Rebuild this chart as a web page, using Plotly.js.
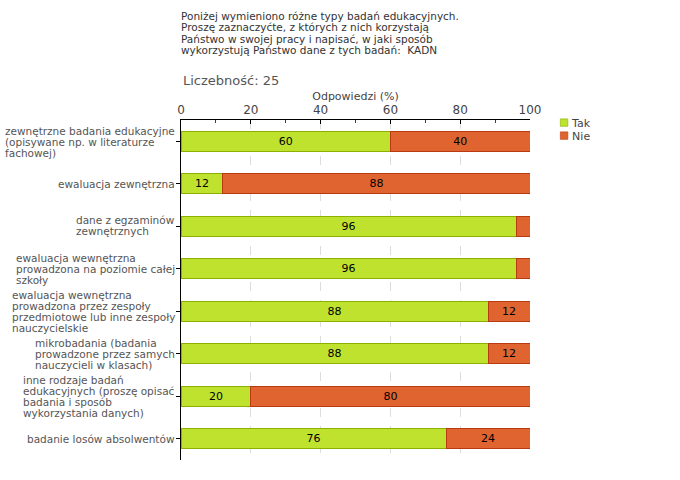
<!DOCTYPE html>
<html>
<head>
<meta charset="utf-8">
<script src="https://cdn.plot.ly/plotly-3.0.1.min.js"></script>
<style>
html,body{margin:0;padding:0;background:#fff;}
#chart{width:680px;height:480px;}
#chart .legendpoints path{transform:translate(32px,0) scale(0.62);}
</style>
</head>
<body>
<div id="chart"></div>
<script>
const categories = [
  "zewnętrzne badania edukacyjne<br>(opisywane np. w literaturze<br>fachowej)",
  "ewaluacja zewnętrzna",
  "dane z egzaminów<br>zewnętrznych",
  "ewaluacja wewnętrzna<br>prowadzona na poziomie całej<br>szkoły",
  "ewaluacja wewnętrzna<br>prowadzona przez zespoły<br>przedmiotowe lub inne zespoły<br>nauczycielskie",
  "mikrobadania (badania<br>prowadzone przez samych<br>nauczycieli w klasach)",
  "inne rodzaje badań<br>edukacyjnych (proszę opisać<br>badania i sposób<br>wykorzystania danych)",
  "badanie losów absolwentów"
];
const takValues = [60, 12, 96, 96, 88, 88, 20, 76];
const nieValues = [40, 88, 4, 4, 12, 12, 80, 24];
const xTicks = [0, 20, 40, 60, 80, 100];
const titleText = "Poniżej wymieniono różne typy badań edukacyjnych.<br>Proszę zaznaczyćte, z których z nich korzystają<br>Państwo w swojej pracy i napisać, w jaki sposób<br>wykorzystują Państwo dane z tych badań:  KADN";
const countText = "Liczebność: 25";

const ids = categories.map((c, i) => i);
const FONT = "DejaVu Sans, Verdana, sans-serif";

const traces = [
  {
    type: "bar", orientation: "h", name: "Tak",
    y: ids, x: takValues,
    text: takValues.map(v => v >= 8 ? String(v) : ""),
    textposition: "inside", insidetextanchor: "middle",
    textfont: {color: "#000", size: 11, family: FONT},
    marker: {color: "#bfe22f", line: {color: "#8db000", width: 1}},
    width: 0.47
  },
  {
    type: "bar", orientation: "h", name: "Nie",
    y: ids, x: nieValues,
    text: nieValues.map(v => v >= 8 ? String(v) : ""),
    textposition: "inside", insidetextanchor: "middle",
    textfont: {color: "#000", size: 11, family: FONT},
    marker: {color: "#e06430", line: {color: "#b83a10", width: 1}},
    width: 0.47
  }
];

const annotations = categories.map((c, i) => ({
  text: c, xref: "paper", yref: "y", x: 0, y: i,
  xanchor: "right", yanchor: "middle", align: "left", xshift: -4,
  showarrow: false, font: {size: 10.5, color: "#555", family: FONT}
}));
annotations.push({
  text: countText, xref: "paper", yref: "paper", x: 0, y: 1, yshift: 40,
  xanchor: "left", yanchor: "middle", xshift: 0, showarrow: false,
  font: {size: 13, color: "#555", family: FONT}
});

const layout = {
  width: 680, height: 480,
  margin: {l: 181, r: 150, t: 120, b: 20},
  paper_bgcolor: "#fff", plot_bgcolor: "#fff",
  barmode: "stack", bargap: 0.5,
  font: {family: FONT, size: 11, color: "#444"},
  title: {
    text: titleText, xref: "paper", x: 0, xanchor: "left",
    yref: "container", y: 0.958, yanchor: "top",
    font: {size: 10.5, color: "#333", family: FONT}
  },
  xaxis: {
    side: "top", range: [0, 100], tickvals: xTicks,
    showline: true, linecolor: "#000", linewidth: 1,
    ticks: "inside", ticklen: 4, tickcolor: "#000",
    minor: {dtick: 10, ticks: "inside", ticklen: 3, tickcolor: "#d00000", showgrid: false},
    showgrid: true, gridcolor: "#dddddd", griddash: "dash", gridwidth: 1,
    zeroline: false,
    tickfont: {size: 12, color: "#444"},
    title: {text: "Odpowiedzi (%)", font: {size: 11, color: "#444"}, standoff: 0},
    fixedrange: true
  },
  yaxis: {
    tickvals: ids, ticktext: ids.map(() => ""),
    autorange: "reversed",
    showline: true, linecolor: "#000", linewidth: 1,
    ticks: "outside", ticklen: 4, tickcolor: "#000",
    showgrid: false, zeroline: false, fixedrange: true
  },
  legend: {
    x: 1.006, xref: "paper", xanchor: "left", y: 1.035, yanchor: "top",
    font: {size: 11, color: "#444", family: FONT},
    traceorder: "normal", itemwidth: 30, tracegroupgap: 0,
    bgcolor: "rgba(0,0,0,0)"
  },
  annotations: annotations,
  showlegend: true
};

function tighten(selector, spacing, centered) {
  document.querySelectorAll(selector).forEach(t => {
    const lines = t.querySelectorAll("tspan.line");
    const n = lines.length;
    if (n < 2) return;
    const fs = parseFloat(t.style.fontSize) || parseFloat(getComputedStyle(t).fontSize);
    const old = fs * 1.3;
    const off = centered ? (n - 1) * (old - spacing) / 2 : 0;
    lines.forEach((ln, i) => ln.setAttribute("dy", (i * spacing + off) + "px"));
  });
}

function tightenLegend(spacing) {
  const items = document.querySelectorAll("#chart .legend .traces");
  if (!items.length) return;
  const m = /translate\(\s*([-\d.]+)[ ,]+([-\d.]+)/.exec(items[0].getAttribute("transform") || "");
  if (!m) return;
  const x0 = parseFloat(m[1]), y0 = parseFloat(m[2]);
  items.forEach((it, i) => it.setAttribute("transform", "translate(" + x0 + "," + (y0 + i * spacing) + ")"));
}

Plotly.newPlot("chart", traces, layout, {displayModeBar: false, staticPlot: true}).then(() => {
  tighten("#chart .annotation-text", 11, true);
  tighten("#chart .gtitle", 11.3, false);
  tightenLegend(13);
});
</script>
</body>
</html>
